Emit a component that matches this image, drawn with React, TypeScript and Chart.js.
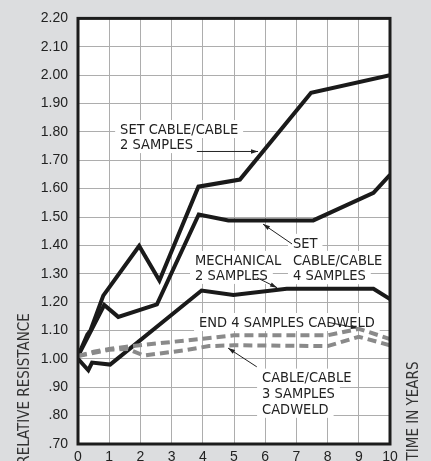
import React, { useEffect, useRef } from "react";
import { Chart, registerables } from "chart.js";

Chart.register(...registerables);

// ---------- data ----------
const xTickLabels = ["0", "1", "2", "3", "4", "5", "6", "7", "8", "9", "10"];
const yTickLabels = [".70", ".80", ".90", "1.00", "1.10", "1.20", "1.30", "1.40", "1.50", "1.60", "1.70", "1.80", "1.90", "2.00", "2.10", "2.20"];

const setCable2X = [0, 0.3, 0.4, 0.81, 1.96, 2.61, 3.86, 5.19, 7.47, 10];
const setCable2Y = [1.01, 1.086, 1.10, 1.223, 1.398, 1.276, 1.607, 1.632, 1.938, 2.0];

const setCable4X = [0, 0.84, 1.29, 2.53, 3.87, 4.82, 7.54, 9.47, 10];
const setCable4Y = [1.01, 1.19, 1.148, 1.192, 1.509, 1.488, 1.488, 1.585, 1.649];

const mechanicalX = [0, 0.33, 0.45, 1.03, 3.96, 4.98, 6.69, 9.47, 10];
const mechanicalY = [1.0, 0.96, 0.987, 0.98, 1.241, 1.225, 1.247, 1.247, 1.211];

const endCadweldX = [0, 0.5, 1, 1.5, 2.5, 4, 5, 8, 9, 10];
const endCadweldY = [1.01, 1.025, 1.035, 1.042, 1.054, 1.071, 1.083, 1.083, 1.106, 1.07];

const cable3CadweldX = [0, 1, 1.6, 2.1, 3.4, 4.2, 5, 8, 9, 10];
const cable3CadweldY = [1.01, 1.032, 1.035, 1.012, 1.03, 1.045, 1.048, 1.045, 1.078, 1.048];

// annotation texts (data coordinates: left x, centre y of each line)
const noteSet2 = { x: 1.35, ys: [1.81, 1.757], lines: ["SET CABLE/CABLE", "2 SAMPLES"] };
const noteMech = { x: 3.75, ys: [1.349, 1.296], lines: ["MECHANICAL", "2 SAMPLES"] };
const noteSet4 = { x: 6.89, ys: [1.409, 1.349, 1.295], lines: ["SET", "CABLE/CABLE", "4 SAMPLES"] };
const noteEnd = { x: 3.88, ys: [1.13], lines: ["END 4 SAMPLES CADWELD"] };
const noteCable3 = { x: 5.9, ys: [0.934, 0.878, 0.824], lines: ["CABLE/CABLE", "3 SAMPLES", "CADWELD"] };
const notes = [noteSet2, noteMech, noteSet4, noteEnd, noteCable3];

// leader arrows: [x1, y1, x2, y2] in data coords, arrowhead at the second point
const leaderSet2 = [3.81, 1.731, 5.77, 1.731];
const leaderMech = [5.74, 1.286, 6.38, 1.251];
const leaderSet4 = [6.86, 1.405, 5.93, 1.475];
const leaderEnd = [8.01, 1.129, 8.97, 1.108];
const leaderCable3 = [5.73, 0.972, 4.81, 1.038];
const leaders = [leaderSet2, leaderMech, leaderSet4, leaderEnd, leaderCable3];

const yTitle = "RELATIVE RESISTANCE";
const xTitle = "TIME IN YEARS";

const NARROW = "'Liberation Sans Narrow', 'DejaVu Sans Condensed', 'Liberation Sans', sans-serif";
const TICKFONT = "'Liberation Sans', Arial, sans-serif";

const pts = (xs: number[], ys: number[]) => xs.map((x, i) => ({ x, y: ys[i] }));

const notesPlugin = {
  id: "notesPlugin",
  beforeDraw(chart: any) {
    const { ctx, chartArea } = chart;
    ctx.save();
    ctx.fillStyle = "#ffffff";
    ctx.fillRect(chartArea.left, chartArea.top, chartArea.right - chartArea.left, chartArea.bottom - chartArea.top);
    ctx.restore();
  },
  beforeDatasetsDraw(chart: any) {
    const { ctx } = chart;
    const xs = chart.scales.x;
    const ys = chart.scales.y;
    ctx.save();
    ctx.font = `14.5px ${NARROW}`;
    ctx.textBaseline = "middle";
    ctx.textAlign = "left";
    for (const n of notes) {
      n.lines.forEach((t, i) => {
        const px = xs.getPixelForValue(n.x);
        const py = ys.getPixelForValue(n.ys[i]);
        const w = ctx.measureText(t).width;
        ctx.fillStyle = "#ffffff";
        ctx.fillRect(px - 5, py - 9, w + 10, 18);
      });
    }
    ctx.fillStyle = "#222222";
    for (const n of notes) {
      n.lines.forEach((t, i) => {
        const px = xs.getPixelForValue(n.x);
        const py = ys.getPixelForValue(n.ys[i]);
        ctx.fillText(t, px, py + 1);
      });
    }
    ctx.strokeStyle = "#222222";
    ctx.fillStyle = "#222222";
    ctx.lineWidth = 1;
    for (const l of leaders) {
      const x1 = xs.getPixelForValue(l[0]);
      const y1 = ys.getPixelForValue(l[1]);
      const x2 = xs.getPixelForValue(l[2]);
      const y2 = ys.getPixelForValue(l[3]);
      ctx.beginPath();
      ctx.moveTo(x1, y1);
      ctx.lineTo(x2, y2);
      ctx.stroke();
      const ang = Math.atan2(y2 - y1, x2 - x1);
      const len = 7;
      const wid = 2.2;
      ctx.beginPath();
      ctx.moveTo(x2, y2);
      ctx.lineTo(x2 - len * Math.cos(ang) + wid * Math.sin(ang), y2 - len * Math.sin(ang) - wid * Math.cos(ang));
      ctx.lineTo(x2 - len * Math.cos(ang) - wid * Math.sin(ang), y2 - len * Math.sin(ang) + wid * Math.cos(ang));
      ctx.closePath();
      ctx.fill();
    }
    ctx.restore();
  },
  afterDatasetsDraw(chart: any) {
    const { ctx, chartArea } = chart;
    ctx.save();
    ctx.strokeStyle = "#1c1c1c";
    ctx.lineWidth = 3;
    ctx.strokeRect(chartArea.left, chartArea.top, chartArea.right - chartArea.left, chartArea.bottom - chartArea.top);
    ctx.restore();
  },
  afterDraw(chart: any) {
    const { ctx } = chart;
    const drawRot = (text: string, cx: number, cy: number) => {
      ctx.save();
      ctx.font = `15px ${NARROW}`;
      ctx.fillStyle = "#333333";
      ctx.textAlign = "center";
      ctx.textBaseline = "middle";
      ctx.translate(cx, cy);
      ctx.rotate(-Math.PI / 2);
      ctx.fillText(text, 0, 0);
      ctx.restore();
    };
    drawRot(yTitle, 25, 389);
    drawRot(xTitle, 414, 411);
  },
};

export default function App() {
  const ref = useRef<HTMLCanvasElement | null>(null);
  useEffect(() => {
    document.body.style.margin = "0";
    document.body.style.background = "#dcdddf";
    const canvas = ref.current;
    if (!canvas) return;
    const black = "#1a1a1a";
    const gray = "#8a8a8a";
    const solid = { borderColor: black, borderWidth: 4, pointRadius: 0, tension: 0, fill: false, borderJoinStyle: "miter" as const };
    const dashed = { borderColor: gray, borderWidth: 4, borderDash: [9, 5], pointRadius: 0, tension: 0, fill: false, borderJoinStyle: "miter" as const };
    const chart = new Chart(canvas, {
      type: "line",
      data: {
        datasets: [
          { label: "END 4 SAMPLES CADWELD", data: pts(endCadweldX, endCadweldY), ...dashed },
          { label: "CABLE/CABLE 3 SAMPLES CADWELD", data: pts(cable3CadweldX, cable3CadweldY), ...dashed },
          { label: "MECHANICAL 2 SAMPLES", data: pts(mechanicalX, mechanicalY), ...solid },
          { label: "SET CABLE/CABLE 4 SAMPLES", data: pts(setCable4X, setCable4Y), ...solid },
          { label: "SET CABLE/CABLE 2 SAMPLES", data: pts(setCable2X, setCable2Y), ...solid },
        ],
      },
      options: {
        animation: false,
        responsive: false,
        devicePixelRatio: 1,
        layout: { padding: { top: 16, right: 41, left: 0, bottom: 0 } },
        plugins: { legend: { display: false }, tooltip: { enabled: false } },
        scales: {
          x: {
            type: "linear",
            min: 0,
            max: 10,
            ticks: {
              stepSize: 1,
              padding: 5,
              color: "#222222",
              font: { family: TICKFONT, size: 14 },
              callback: (_v: any, i: number) => xTickLabels[i],
              maxRotation: 0,
            },
            grid: { color: "#adadad", lineWidth: 1, drawTicks: false },
            border: { display: false },
            afterFit: (s: any) => { s.height = 36; },
          },
          y: {
            type: "linear",
            min: 0.7,
            max: 2.2,
            ticks: {
              stepSize: 0.1,
              padding: 10,
              color: "#222222",
              font: { family: TICKFONT, size: 14 },
              callback: (_v: any, i: number) => yTickLabels[i],
            },
            grid: { color: "#adadad", lineWidth: 1, drawTicks: false },
            border: { display: false },
            afterFit: (s: any) => { s.width = 78; },
          },
        },
      },
      plugins: [notesPlugin],
    });
    return () => chart.destroy();
  }, []);
  return (
    <div style={{ width: 431, height: 461, overflow: "hidden", background: "#dcdddf" }}>
      <canvas ref={ref} width={431} height={480} style={{ display: "block", width: 431, height: 480 }} />
    </div>
  );
}
